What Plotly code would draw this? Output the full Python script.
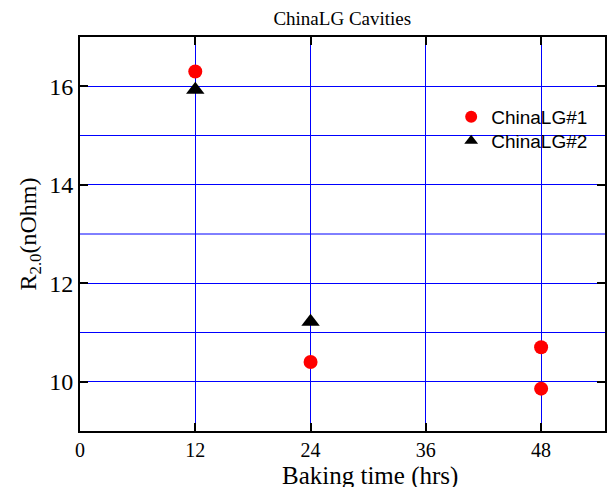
import plotly.graph_objects as go

# Data
s1_name = "ChinaLG#1"
s1_x = [12, 24, 48, 48]
s1_y = [16.3, 10.4, 10.7, 9.86]

s2_name = "ChinaLG#2"
s2_x = [12, 24]
s2_y = [15.93, 11.22]

x_ticks = [0, 12, 24, 36, 48]
y_ticks = [10, 12, 14, 16]
y_minor_grid = [11, 13, 15]

serif = "Liberation Serif"
sans = "Liberation Sans"

fig = go.Figure()
fig.add_trace(go.Scatter(x=s1_x, y=s1_y, mode="markers", name=s1_name, legend="legend",
                         marker=dict(symbol="circle", size=14, color="#ff0000")))
fig.add_trace(go.Scatter(x=s2_x, y=s2_y, mode="markers", name=s2_name, legend="legend2",
                         marker=dict(symbol="triangle-up", size=16, color="#000000")))

leg_common = dict(xanchor="left", yanchor="middle", bgcolor="rgba(255,255,255,0)", borderwidth=0,
                  font=dict(family=sans, size=19, color="black"), itemsizing="constant")

fig.update_layout(
    width=608, height=487,
    margin=dict(l=80, r=1, t=37, b=56),
    paper_bgcolor="white", plot_bgcolor="white",
    title=dict(text="ChinaLG Cavities", x=0.563, xanchor="center", y=0.962, yanchor="middle",
               font=dict(family=serif, size=19, color="black")),
    showlegend=True,
    legend=dict(x=0.707, y=(431 - 117) / 394, **leg_common),
    legend2=dict(x=0.707, y=(431 - 141) / 394, **leg_common),
)
fig.update_xaxes(range=[0, 54.65], tickvals=x_ticks,
                 tickfont=dict(family=serif, size=20, color="black"),
                 showgrid=True, gridcolor="#0000ff", gridwidth=1,
                 zeroline=False, showline=True, linecolor="black", linewidth=2,
                 mirror="ticks", ticks="inside", ticklen=8, tickcolor="black", tickwidth=2)
fig.update_yaxes(range=[9, 17], tickvals=y_ticks,
                 tickfont=dict(family=serif, size=24, color="black"),
                 showgrid=True, gridcolor="#0000ff", gridwidth=1,
                 zeroline=False, showline=True, linecolor="black", linewidth=2,
                 mirror="ticks", ticks="inside", ticklen=8, tickcolor="black", tickwidth=2,
                 title=dict(text="R<sub>2.0</sub>(nOhm)", font=dict(family=serif, size=24, color="black"), standoff=6))
for yv in y_minor_grid:
    fig.add_hline(y=yv, line=dict(color="#0000ff", width=1), layer="below")
fig.add_annotation(text="Baking time (hrs)", xref="paper", yref="paper",
                   x=(371 - 80) / 527, y=(431 - 476) / 394, xanchor="center", yanchor="middle",
                   showarrow=False, font=dict(family=serif, size=25, color="black"))

fig.write_html("out.html")
